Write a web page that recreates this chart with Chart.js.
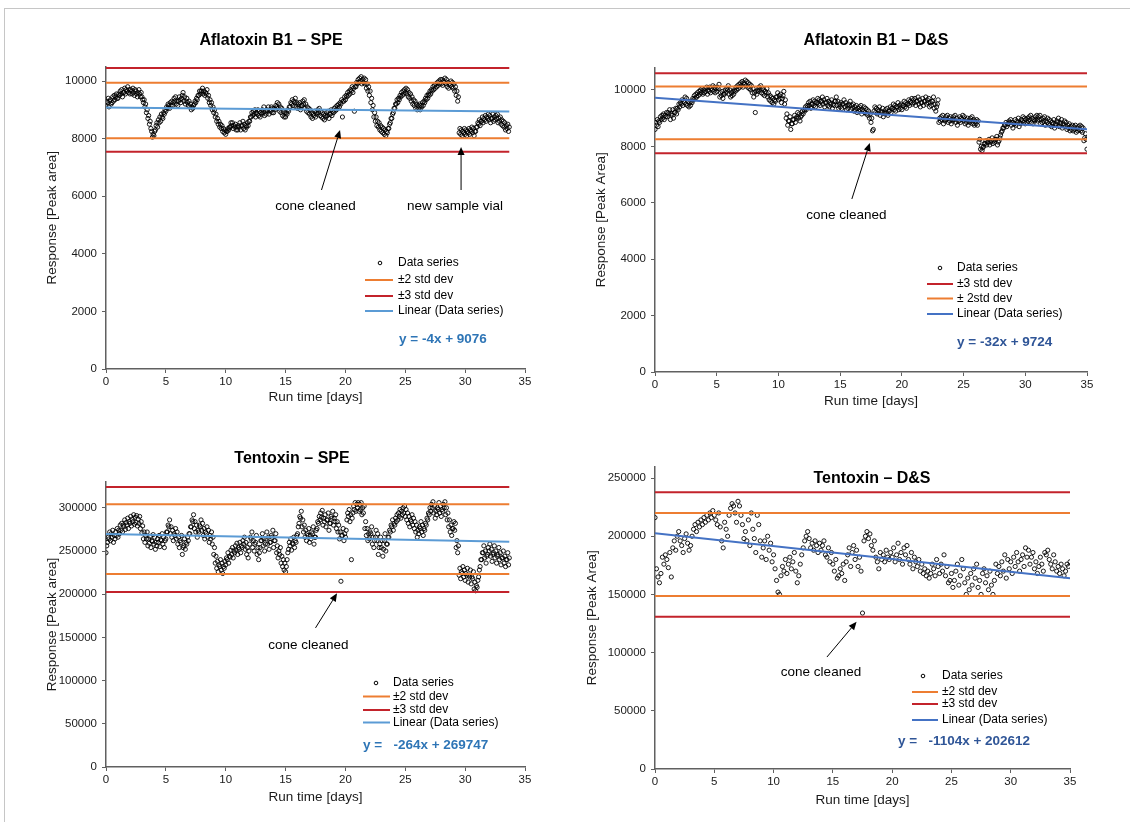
<!DOCTYPE html>
<html><head><meta charset="utf-8">
<script src="https://cdn.jsdelivr.net/npm/chart.js@4.4.1/dist/chart.umd.min.js"></script>
<style>
html,body{margin:0;padding:0;background:#fff;}
#wrap{position:relative;width:1130px;height:822px;overflow:hidden;background:#fff;}
#frame{position:absolute;left:4px;top:8px;width:1140px;height:830px;border-left:1px solid #c6c6c6;border-top:1px solid #c6c6c6;}
canvas{position:absolute;left:0;top:0;}
</style></head><body>
<div id="wrap"><div id="frame"></div>
<canvas id="c1" width="1130" height="822"></canvas>
<canvas id="c2" width="1130" height="822"></canvas>
<canvas id="c3" width="1130" height="822"></canvas>
<canvas id="c4" width="1130" height="822"></canvas>
</div>
<script>
// ---------------- DATA ----------------
const xTicks = [0, 5, 10, 15, 20, 25, 30, 35];

// Aflatoxin B1 – SPE : response (peak area), one value per injection
const aflaSpeStep = 0.0625; // days between injections
const aflaSpeResp = [
9150,9300,9250,9400,9100,9300,9350,9200,9250,9450,9300,9500,9350,9450,9550,9400,
9400,9550,9500,9650,9550,9700,9450,9600,9600,9750,9550,9700,9650,9800,9600,9700,
9550,9700,9650,9550,9750,9600,9500,9700,9650,9550,9450,9600,9700,9550,9450,9600,
9450,9350,9250,9350,9100,9200,8900,9000,8700,8800,8500,8600,8350,8250,8050,8150,
8100,8250,8300,8450,8550,8400,8650,8550,8750,8600,8850,8750,8700,8900,8850,9000,
8950,9100,9050,9200,9150,9050,9250,9150,9300,9150,9250,9400,9300,9450,9200,9300,
9150,9300,9450,9350,9250,9400,9500,9600,9300,9450,9200,9300,9400,9250,9150,9300,
9100,9200,9000,9100,9050,9150,9200,9300,9250,9400,9350,9500,9500,9650,9550,9650,
9650,9750,9550,9650,9500,9600,9550,9700,9400,9500,9250,9350,9150,9250,9000,9100,
8900,9000,8750,8850,8600,8700,8500,8600,8400,8500,8350,8450,8250,8350,8200,8300,
8150,8250,8250,8350,8300,8400,8400,8550,8450,8550,8350,8450,8400,8500,8300,8400,
8300,8450,8400,8550,8300,8450,8450,8600,8350,8500,8300,8450,8400,8550,8450,8600,
8600,8750,8750,8900,8800,8950,8850,9000,8750,8900,8850,9000,8800,8950,8750,8900,
8850,9000,8900,9100,8800,8950,8850,9000,8950,9100,8850,9000,8950,9100,8900,9050,
8900,9050,9000,9150,9100,9250,9050,9200,8950,9100,8900,9050,8800,8950,8750,8900,
8750,8900,8850,9000,8950,9100,9100,9250,9200,9350,9150,9300,9250,9400,9100,9250,
9050,9200,9100,9250,9000,9150,9150,9300,9200,9350,9050,9200,8950,9100,8900,9050,
8850,9000,8750,8900,8700,8850,8800,8950,8750,8900,8850,9000,8900,9050,8800,8950,
8750,8900,8700,8850,8650,8800,8750,8900,8800,8950,8700,8850,8850,9000,8800,8950,
8900,9050,8950,9100,9000,9150,9050,9200,9100,9250,9200,9350,8750,9300,9300,9450,
9350,9500,9450,9600,9500,9650,9550,9700,9650,9800,9600,9750,8950,9800,9800,9950,
9900,10050,9950,10100,10000,10150,9900,10050,9950,10100,9900,10050,9750,9900,9650,9800,
9500,9650,9250,9400,9000,9150,8750,8900,8600,8750,8450,8600,8400,8550,8300,8450,
8250,8400,8200,8350,8150,8300,8100,8250,8200,8350,8350,8500,8550,8700,8700,8850,
8900,9050,9050,9200,9200,9350,9250,9400,9350,9500,9450,9600,9500,9650,9550,9700,
9600,9750,9550,9700,9450,9600,9400,9550,9300,9450,9200,9350,9150,9300,9050,9200,
9000,9150,9050,9200,9000,9150,9100,9250,9150,9300,9250,9400,9350,9500,9400,9550,
9500,9650,9550,9700,9650,9800,9700,9850,9750,9900,9800,9950,9850,10000,9900,10050,
9900,10050,9850,10000,9950,10100,9900,10050,9800,9950,9750,9900,9850,10000,9800,9950,
9750,9900,9650,9800,9500,9650,9300,9450,8200,8350,8150,8300,8100,8250,8200,8350,
8150,8300,8100,8250,8200,8350,8150,8300,8250,8400,8200,8350,8100,8250,8250,8400,
8400,8550,8500,8650,8450,8600,8600,8750,8550,8700,8650,8800,8600,8750,8700,8850,
8650,8800,8550,8700,8700,8850,8600,8750,8650,8800,8700,8850,8550,8700,8600,8750,
8500,8650,8450,8600,8400,8550,8300,8450,8350,8500,8250,8400
];
const aflaSpeSd2 = [8010, 9940];
const aflaSpeSd3 = [7545, 10450];
const aflaSpeTrend = [-4, 9076]; // slope, intercept
const aflaSpeYTicks = [0, 2000, 4000, 6000, 8000, 10000];

// Aflatoxin B1 – D&S
const aflaDsStep = 0.0625;
const aflaDsResp = [
8600,8850,8750,8950,8700,8900,8850,9050,8950,9100,9000,9150,8950,9100,9050,9200,
9050,9200,9150,9300,8950,9150,9100,9300,9000,9200,9200,9350,9150,9350,9300,9500,
9400,9550,9500,9650,9450,9600,9550,9750,9500,9700,9450,9600,9400,9550,9450,9600,
9550,9700,9650,9800,9700,9850,9750,9900,9800,9950,9850,10000,9900,10050,9850,10000,
9900,10050,9950,10100,9850,10000,9950,10100,9900,10050,10000,10150,9950,10100,9900,10050,
9950,10100,10050,10200,9750,9900,9800,9950,9700,9850,9850,10000,9900,10050,10000,10150,
9850,10000,9750,9900,9800,9950,9850,10000,9950,10100,10000,10150,10050,10200,10100,10250,
10150,10300,10100,10250,10200,10350,10150,10300,10100,10250,10050,10200,10000,10150,9900,10050,
9750,9900,9200,9950,9850,10000,9950,10100,10000,10150,9900,10050,9850,10000,9800,9950,
9900,10050,9750,9900,9650,9800,9600,9750,9550,9700,9500,9650,9600,9750,9750,9900,
9650,9800,9700,9850,9550,9700,9800,9950,9500,9650,9000,9150,8750,8900,8900,9050,
8600,8800,8800,8950,8950,9100,8850,9000,9050,9200,9000,9150,8900,9050,9100,9250,
9150,9300,9250,9400,9300,9450,9400,9550,9450,9600,9350,9500,9500,9650,9450,9600,
9400,9550,9550,9700,9500,9650,9450,9600,9600,9750,9500,9650,9400,9550,9550,9700,
9450,9600,9400,9550,9500,9650,9350,9500,9450,9600,9600,9750,9450,9600,9350,9500,
9400,9550,9350,9500,9500,9650,9400,9550,9300,9450,9350,9500,9450,9600,9300,9450,
9350,9500,9250,9400,9300,9450,9200,9350,9250,9400,9300,9450,9150,9300,9250,9400,
9200,9350,9150,9300,9100,9250,9000,9150,8850,9000,8550,8600,9250,9400,9200,9350,
9150,9300,9250,9400,9100,9250,9200,9350,9050,9200,9150,9300,9200,9350,9100,9250,
9250,9400,9200,9350,9350,9500,9300,9450,9250,9400,9400,9550,9300,9450,9350,9500,
9300,9450,9450,9600,9400,9550,9350,9500,9500,9650,9450,9600,9550,9700,9500,9650,
9550,9700,9450,9600,9600,9750,9500,9650,9400,9550,9550,9700,9450,9600,9600,9750,
9500,9650,9550,9700,9400,9550,9450,9600,9600,9750,9350,9500,9250,9400,9500,9650,
8850,9000,8900,9050,8950,9100,8800,8950,8900,9050,8950,9100,8850,9000,8900,9050,
8800,8950,8900,9050,8950,9100,8850,9000,8750,8900,8900,9050,8850,9000,8950,9100,
8900,9050,8800,8950,8850,9000,8750,8900,8850,9000,8900,9050,8800,8950,8750,8900,
8800,8950,8750,8900,8150,8250,7900,8000,7850,7950,8000,8100,8100,8200,8050,8150,
8150,8250,8050,8150,8200,8300,8100,8200,8150,8250,8250,8350,8050,8150,8200,8300,
8400,8500,8550,8650,8650,8750,8750,8850,8700,8800,8800,8900,8850,8950,8750,8850,
8650,8800,8800,8950,8750,8900,8850,9000,8700,8850,8800,8950,8900,9050,8850,9000,
8800,8950,8850,9000,8900,9050,8950,9100,8850,9000,8800,8950,8900,9050,8950,9100,
8900,9050,8950,9100,8800,8950,8850,9000,8900,9050,8750,8900,8850,9000,8800,8950,
8750,8900,8700,8850,8800,8950,8650,8800,8750,8900,8850,9000,8700,8850,8800,8950,
8650,8800,8750,8900,8700,8850,8600,8750,8650,8800,8550,8700,8600,8750,8550,8700,
8600,8750,8500,8650,8550,8700,8600,8750,8550,8700,8500,8650,8200,8300,8450,8250,
7900
];
const aflaDsSd2 = [8250, 10120];
const aflaDsSd3 = [7755, 10590];
const aflaDsTrend = [-32, 9724];
const aflaDsYTicks = [0, 2000, 4000, 6000, 8000, 10000];

// Tentoxin – SPE
const tenSpeStep = 0.0625;
const tenSpeResp = [
248000,256000,260000,266000,264000,272000,262000,270000,266000,274000,260000,268000,264000,272000,268000,276000,
266000,274000,270000,280000,274000,282000,272000,280000,278000,286000,275000,283000,280000,288000,276000,284000,
282000,290000,279000,287000,284000,292000,281000,289000,283000,291000,279000,287000,282000,290000,276000,284000,
271000,279000,264000,272000,260000,268000,264000,272000,256000,264000,259000,267000,254000,262000,261000,269000,
258000,266000,252000,260000,256000,264000,260000,268000,255000,263000,262000,270000,258000,266000,254000,262000,
264000,272000,272000,280000,278000,286000,270000,278000,266000,274000,262000,270000,268000,276000,264000,272000,
258000,266000,254000,262000,260000,268000,246000,254000,256000,264000,252000,260000,258000,266000,262000,270000,
270000,278000,278000,286000,284000,292000,276000,284000,272000,280000,266000,274000,272000,280000,278000,286000,
274000,282000,268000,276000,264000,272000,270000,278000,266000,274000,260000,268000,264000,272000,258000,266000,
246000,254000,236000,244000,230000,238000,226000,234000,232000,240000,228000,236000,224000,232000,230000,238000,
234000,242000,240000,248000,236000,244000,243000,251000,246000,254000,242000,250000,248000,256000,251000,259000,
246000,254000,252000,260000,248000,256000,254000,262000,258000,266000,252000,260000,246000,254000,242000,250000,
258000,266000,264000,272000,254000,262000,250000,258000,260000,268000,246000,254000,240000,248000,254000,262000,
262000,270000,256000,264000,250000,258000,264000,272000,258000,266000,252000,260000,260000,268000,266000,274000,
254000,262000,262000,270000,248000,256000,242000,250000,246000,254000,236000,244000,232000,240000,228000,236000,
226000,232000,240000,248000,252000,260000,256000,264000,251000,259000,258000,266000,254000,262000,260000,268000,
270000,278000,282000,290000,288000,296000,278000,286000,272000,280000,266000,274000,262000,270000,268000,276000,
260000,268000,264000,272000,270000,278000,258000,266000,266000,274000,276000,284000,282000,290000,286000,294000,
289000,297000,280000,288000,284000,292000,278000,286000,286000,294000,274000,282000,282000,290000,288000,296000,
280000,288000,284000,292000,276000,284000,272000,280000,264000,272000,215000,268000,268000,276000,262000,270000,
266000,274000,286000,294000,290000,298000,284000,292000,240000,288000,294000,302000,298000,306000,296000,304000,
300000,306000,296000,304000,298000,306000,292000,300000,294000,302000,276000,284000,268000,276000,262000,270000,
264000,272000,270000,278000,258000,266000,254000,262000,266000,274000,262000,270000,246000,254000,258000,266000,
254000,262000,244000,252000,262000,270000,250000,258000,258000,266000,266000,274000,272000,280000,278000,286000,
274000,282000,280000,288000,284000,292000,286000,294000,290000,298000,288000,296000,292000,300000,294000,302000,
290000,298000,286000,294000,282000,290000,278000,286000,284000,292000,280000,288000,276000,284000,272000,280000,
266000,274000,270000,278000,276000,284000,272000,280000,268000,276000,274000,282000,280000,288000,286000,294000,
292000,300000,296000,304000,300000,307000,294000,302000,288000,296000,292000,300000,298000,306000,294000,302000,
290000,298000,296000,304000,300000,307000,292000,300000,286000,294000,278000,286000,272000,280000,268000,276000,
276000,284000,274000,282000,254000,262000,248000,256000,222000,230000,218000,226000,224000,232000,220000,228000,
216000,224000,222000,230000,214000,222000,220000,228000,212000,220000,218000,226000,206000,214000,204000,210000,
208000,216000,220000,228000,232000,240000,240000,248000,248000,256000,242000,250000,236000,244000,246000,254000,
250000,258000,244000,252000,238000,246000,248000,256000,242000,250000,236000,244000,246000,254000,240000,248000,
234000,242000,242000,250000,236000,244000,232000,240000,240000,248000,234000,242000
];
const tenSpeSd2 = [223400, 304000];
const tenSpeSd3 = [202500, 324000];
const tenSpeTrend = [-264, 269747];
const tenSpeYTicks = [0, 50000, 100000, 150000, 200000, 250000, 300000];

// Tentoxin – D&S
const tenDsStep = 0.125;
const tenDsResp = [
216000,172000,165000,160000,168000,182000,176000,184000,
180000,173000,186000,165000,190000,196000,188000,200000,
204000,196000,192000,186000,198000,202000,194000,188000,
192000,200000,206000,210000,204000,212000,208000,214000,
210000,216000,212000,218000,214000,220000,216000,222000,
218000,214000,210000,220000,208000,196000,190000,212000,
206000,200000,218000,224000,228000,226000,220000,212000,
230000,226000,218000,210000,198000,204000,196000,214000,
192000,220000,206000,198000,186000,218000,210000,196000,
182000,190000,196000,180000,200000,188000,194000,178000,
184000,172000,162000,152000,150000,166000,174000,170000,
180000,168000,176000,182000,172000,178000,186000,170000,
160000,166000,176000,184000,190000,196000,200000,204000,
198000,190000,194000,188000,196000,192000,186000,194000,
188000,192000,196000,184000,182000,190000,178000,186000,
176000,170000,180000,164000,166000,172000,168000,176000,
162000,178000,184000,190000,174000,186000,192000,180000,
188000,174000,182000,170000,134000,196000,200000,204000,
198000,202000,192000,188000,196000,182000,178000,172000,
186000,180000,184000,178000,188000,182000,180000,186000,
182000,190000,178000,184000,194000,180000,186000,176000,
190000,184000,192000,180000,176000,186000,172000,182000,
178000,174000,180000,170000,176000,168000,172000,166000,
170000,164000,168000,176000,172000,166000,180000,174000,
168000,176000,170000,184000,166000,174000,160000,162000,
168000,156000,162000,170000,176000,158000,166000,180000,
172000,160000,150000,164000,154000,168000,158000,172000,
164000,176000,156000,162000,150000,168000,172000,160000,
166000,154000,170000,158000,150000,162000,176000,168000,
174000,166000,178000,170000,184000,164000,180000,172000,
178000,168000,182000,174000,186000,178000,170000,180000,
184000,174000,190000,182000,188000,176000,182000,186000,
172000,178000,168000,174000,182000,176000,170000,186000,
184000,188000,180000,176000,172000,184000,178000,170000,
174000,168000,176000,172000,166000,170000,176000,174000,
178000
];
const tenDsSd2 = [148600, 219900];
const tenDsSd3 = [130800, 237700];
const tenDsTrend = [-1104, 202612];
const tenDsYTicks = [0, 50000, 100000, 150000, 200000, 250000];

// ---------------- STYLE / RENDER ----------------
const FONT = '"Liberation Sans", Arial, Helvetica, sans-serif';
const RED = '#C3232B', ORANGE = '#ED7D31';

function arrow(ctx, x1, y1, x2, y2) {
  const a = Math.atan2(y2 - y1, x2 - x1), L = 8, W = 3.5;
  const bx = x2 - L * Math.cos(a), by = y2 - L * Math.sin(a);
  ctx.strokeStyle = '#000'; ctx.lineWidth = 1;
  ctx.beginPath(); ctx.moveTo(x1, y1); ctx.lineTo(bx, by); ctx.stroke();
  ctx.fillStyle = '#000';
  ctx.beginPath(); ctx.moveTo(x2, y2);
  ctx.lineTo(bx + W * Math.sin(a), by - W * Math.cos(a));
  ctx.lineTo(bx - W * Math.sin(a), by + W * Math.cos(a));
  ctx.closePath(); ctx.fill();
}

const decoPlugin = {
  id: 'deco',
  afterDatasetsDraw(chart, args, o) {
    const ctx = chart.ctx, xs = chart.scales.x, ys = chart.scales.y;
    ctx.save();
    ctx.fillStyle = '#000'; ctx.textAlign = 'center'; ctx.textBaseline = 'middle';
    ctx.font = 'bold 16px ' + FONT;
    ctx.fillText(o.title, o.titleX, o.titleY);
    ctx.font = '13.5px ' + FONT;
    o.notes.forEach(n => {
      ctx.fillStyle = '#000';
      ctx.textAlign = 'center';
      ctx.fillText(n.label, xs.getPixelForValue(n.at[0]), ys.getPixelForValue(n.at[1]));
      arrow(ctx, xs.getPixelForValue(n.from[0]), ys.getPixelForValue(n.from[1]),
                 xs.getPixelForValue(n.to[0]), ys.getPixelForValue(n.to[1]));
    });
    const lg = o.legend;
    ctx.font = '12px ' + FONT; ctx.textAlign = 'left';
    lg.items.forEach(it => {
      if (it.type === 'marker') {
        ctx.strokeStyle = '#000'; ctx.lineWidth = 1;
        ctx.beginPath(); ctx.arc(lg.markerX, it.y, 1.8, 0, Math.PI * 2); ctx.stroke();
      } else {
        ctx.strokeStyle = it.color; ctx.lineWidth = 2;
        ctx.beginPath(); ctx.moveTo(lg.lineX0, it.y); ctx.lineTo(lg.lineX1, it.y); ctx.stroke();
      }
      ctx.fillStyle = '#000';
      ctx.fillText(it.label, lg.textX, it.y);
    });
    ctx.font = 'bold 13.5px ' + FONT; ctx.fillStyle = o.eqColor;
    ctx.fillText(o.eq, o.eqX, o.eqY);
    ctx.restore();
  }
};

function makePanel(id, p) {
  const pts = p.resp.map((v, i) => ({ x: i * p.step, y: v }));
  const xEnd = p.lineToEnd ? 35 : pts[pts.length - 1].x;
  const hl = (v, c) => ({ data: [{ x: 0, y: v }, { x: xEnd, y: v }], showLine: true, borderColor: c,
      borderWidth: 2, pointRadius: 0, order: 1 });
  const tr = p.trend;
  const datasets = [
    { data: pts, pointRadius: 2.1, pointBorderWidth: 0.9, pointBorderColor: '#000',
      pointBackgroundColor: 'rgba(255,255,255,0)', showLine: false, order: 10 },
    hl(p.sd2[0], ORANGE), hl(p.sd2[1], ORANGE), hl(p.sd3[0], RED), hl(p.sd3[1], RED),
    { data: [{ x: 0, y: tr[1] }, { x: xEnd, y: tr[0] * xEnd + tr[1] }], showLine: true,
      borderColor: p.trendColor, borderWidth: 2, pointRadius: 0, order: 0 }
  ];
  const axisCol = '#606060';
  new Chart(document.getElementById(id), {
    type: 'scatter',
    data: { datasets },
    plugins: [decoPlugin],
    options: {
      responsive: false, animation: false, events: [],
      layout: { padding: { left: p.left - p.yW, top: p.top, right: 1130 - p.right, bottom: 822 - p.bottom - p.xH } },
      plugins: { legend: { display: false }, tooltip: { enabled: false }, title: { display: false },
        deco: p.deco },
      scales: {
        x: { type: 'linear', min: 0, max: 35,
          afterFit: s => { s.height = p.xH; },
          afterBuildTicks: s => { s.ticks = xTicks.map(v => ({ value: v })); },
          ticks: { padding: 2, color: '#1a1a1a', font: { family: FONT, size: 11.5 }, maxRotation: 0,
                   autoSkip: false, callback: v => String(v) },
          grid: { display: true, drawOnChartArea: false, drawTicks: true, tickLength: 4, color: axisCol },
          border: { display: true, color: axisCol, width: 1.5 },
          title: { display: true, text: 'Run time [days]', color: '#1a1a1a', font: { family: FONT, size: 13.5 }, padding: { top: 0, bottom: 0 } } },
        y: { type: 'linear', min: 0, max: p.yMax,
          afterFit: s => { s.width = p.yW; },
          afterBuildTicks: s => { s.ticks = p.yTicks.map(v => ({ value: v })); },
          ticks: { padding: 5, color: '#1a1a1a', font: { family: FONT, size: 11.5 }, autoSkip: false,
                   callback: v => String(v) },
          grid: { display: true, drawOnChartArea: false, drawTicks: true, tickLength: 4, color: axisCol },
          border: { display: true, color: axisCol, width: 1.5 },
          title: { display: true, text: p.yTitle, color: '#1a1a1a', font: { family: FONT, size: 13.5 }, padding: { top: 0, bottom: 0 } } }
      }
    }
  });
}

makePanel('c1', {
  resp: aflaSpeResp, step: aflaSpeStep, sd2: aflaSpeSd2, sd3: aflaSpeSd3, trend: aflaSpeTrend, trendColor: '#5B9BD5',
  lineToEnd: false, yMax: 10500, yTicks: aflaSpeYTicks, yTitle: 'Response [Peak area]',
  left: 106, right: 525, top: 66.6, bottom: 369, yW: 62, xH: 36,
  deco: { title: 'Aflatoxin B1 – SPE', titleX: 271, titleY: 41,
    notes: [
      { label: 'cone cleaned', at: [17.5, 5640], from: [18.0, 6215], to: [19.55, 8300] },
      { label: 'new sample vial', at: [29.15, 5640], from: [29.66, 6215], to: [29.66, 7710] }
    ],
    legend: { markerX: 380, textX: 398, lineX0: 365, lineX1: 393, items: [
      { type: 'marker', label: 'Data series', y: 263 },
      { type: 'line', color: ORANGE, label: '±2 std dev', y: 280 },
      { type: 'line', color: RED, label: '±3 std dev', y: 296 },
      { type: 'line', color: '#5B9BD5', label: 'Linear (Data series)', y: 311 } ] },
    eq: 'y = -4x + 9076', eqX: 399, eqY: 339, eqColor: '#2E75B6' }
});

makePanel('c2', {
  resp: aflaDsResp, step: aflaDsStep, sd2: aflaDsSd2, sd3: aflaDsSd3, trend: aflaDsTrend, trendColor: '#4472C4',
  lineToEnd: true, yMax: 10800, yTicks: aflaDsYTicks, yTitle: 'Response [Peak Area]',
  left: 655, right: 1087, top: 67.4, bottom: 372, yW: 62, xH: 37,
  deco: { title: 'Aflatoxin B1 – D&S', titleX: 876, titleY: 41,
    notes: [
      { label: 'cone cleaned', at: [15.5, 5540], from: [15.95, 6135], to: [17.4, 8120] }
    ],
    legend: { markerX: 940, textX: 957, lineX0: 927, lineX1: 953, items: [
      { type: 'marker', label: 'Data series', y: 268 },
      { type: 'line', color: RED, label: '±3 std dev', y: 284 },
      { type: 'line', color: ORANGE, label: '± 2std dev', y: 298.5 },
      { type: 'line', color: '#4472C4', label: 'Linear (Data series)', y: 314 } ] },
    eq: 'y = -32x + 9724', eqX: 957, eqY: 342, eqColor: '#2F5597' }
});

makePanel('c3', {
  resp: tenSpeResp, step: tenSpeStep, sd2: tenSpeSd2, sd3: tenSpeSd3, trend: tenSpeTrend, trendColor: '#5B9BD5',
  lineToEnd: false, yMax: 330000, yTicks: tenSpeYTicks, yTitle: 'Response [Peak area]',
  left: 106, right: 525, top: 481.9, bottom: 767, yW: 62, xH: 38,
  deco: { title: 'Tentoxin – SPE', titleX: 292, titleY: 459,
    notes: [
      { label: 'cone cleaned', at: [16.9, 141200], from: [17.5, 161000], to: [19.3, 201000] }
    ],
    legend: { markerX: 376, textX: 393, lineX0: 363, lineX1: 390, items: [
      { type: 'marker', label: 'Data series', y: 683 },
      { type: 'line', color: ORANGE, label: '±2 std dev', y: 696.5 },
      { type: 'line', color: RED, label: '±3 std dev', y: 710 },
      { type: 'line', color: '#5B9BD5', label: 'Linear (Data series)', y: 722.5 } ] },
    eq: 'y =   -264x + 269747', eqX: 363, eqY: 745, eqColor: '#2E75B6' }
});

makePanel('c4', {
  resp: tenDsResp, step: tenDsStep, sd2: tenDsSd2, sd3: tenDsSd3, trend: tenDsTrend, trendColor: '#4472C4',
  lineToEnd: true, yMax: 260000, yTicks: tenDsYTicks, yTitle: 'Response [Peak Area]',
  left: 655, right: 1070, top: 466.4, bottom: 769, yW: 71, xH: 39,
  deco: { title: 'Tentoxin – D&S', titleX: 872, titleY: 479,
    notes: [
      { label: 'cone cleaned', at: [14.0, 83300], from: [14.5, 96200], to: [17.0, 126500] }
    ],
    legend: { markerX: 923, textX: 942, lineX0: 912, lineX1: 938, items: [
      { type: 'marker', label: 'Data series', y: 676 },
      { type: 'line', color: ORANGE, label: '±2 std dev', y: 692 },
      { type: 'line', color: RED, label: '±3 std dev', y: 704 },
      { type: 'line', color: '#4472C4', label: 'Linear (Data series)', y: 720 } ] },
    eq: 'y =   -1104x + 202612', eqX: 898, eqY: 741, eqColor: '#2F5597' }
});
</script>
</body></html>
